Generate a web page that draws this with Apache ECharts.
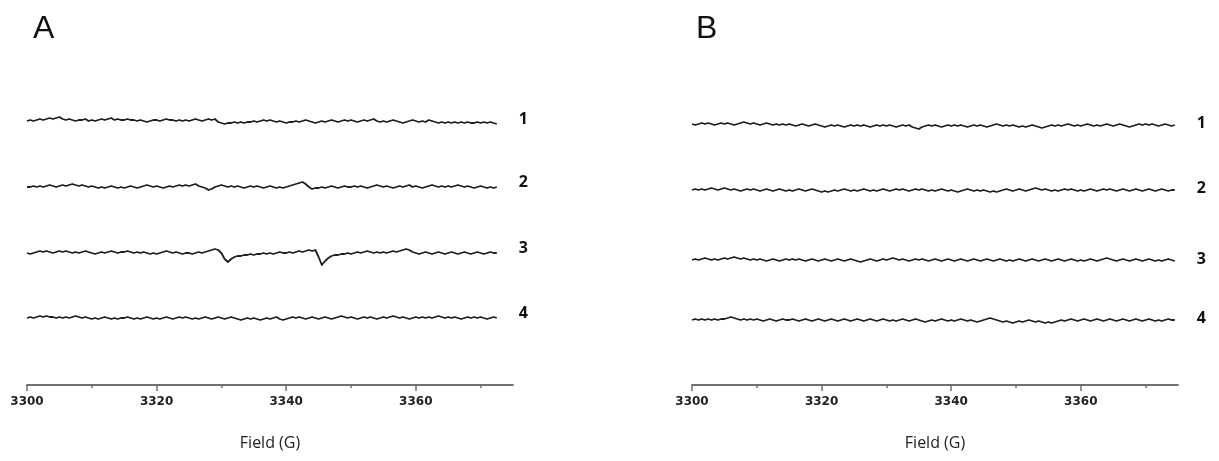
<!DOCTYPE html>
<html>
<head>
<meta charset="utf-8">
<script src="https://cdn.jsdelivr.net/npm/echarts@6/dist/echarts.min.js"></script>
<style>
html,body{margin:0;padding:0;background:#fff;}
#chart{width:1219px;height:461px;}
</style>
</head>
<body>
<div id="chart"></div>
<script>
// Field axis (G)
var fieldMin = 3300;
var fieldMax = 3375;
var fieldStep = 0.5;
var majorTicks = [3300, 3320, 3340, 3360];
var minorTicks = [3310, 3330, 3350, 3370];
var traceNames = ['1', '2', '3', '4'];

// Vertical offsets (stacking) of each trace, arbitrary units
var baseA = [264, 198, 132, 67];
var baseB = [260, 195, 125, 65];

// Panel A signals (3300 .. 3372.5 G, step 0.5 G)
var sigA1 = [0,1,0,1,2,1,2,3,2,3, 4,2,1,2,1,0,1,1,2,0, 1,0,1,2,1,2,3,1,2,1, 1,2,1,1,0,1,0,-1,0,1,
  1,0,1,2,1,1,0,1,0,1, 0,1,2,1,0,1,2,1,2,-1, -2,-3,-2,-2,-1,-2,-1,-2,-1,-1, 0,-1,0,1,0,1,0,-1,0,-1,
  -2,-1,-1,0,-1,0,1,0,-1,-2, -1,0,-1,0,1,0,-1,0,1,0, 1,0,-1,0,1,0,1,2,0,-1, 0,-1,0,1,0,-1,-2,-1,0,1,
  0,-1,0,-1,1,0,-1,-2,-1,-2, -1,-2,-1,-2,-1,-2,-1,-2,-2,-1, -2,-1,-2,-1,-2,-3];
var sigA2 = [0,0,1,0,1,0,1,2,1,0, 1,2,1,2,3,2,1,2,1,0, 1,0,-1,0,-1,0,1,0,-1,0, -1,0,1,0,-1,0,1,2,1,0,
  1,0,-1,0,1,0,1,2,1,2, 1,2,3,1,0,-1,-3,-2,0,1, 2,1,0,1,0,1,0,-1,0,1, 0,1,0,-1,0,1,0,-1,0,-1,
  0,1,2,3,4,5,3,0,-2,-1, -1,0,-1,0,1,0,-1,0,1,0, 0,1,0,1,0,-1,0,1,2,1, 0,1,0,-1,0,1,0,1,2,0,
  1,0,-1,0,1,2,1,0,1,0, 1,0,1,2,1,0,1,0,-1,0, 1,0,-1,0,-1,0];
var sigA3 = [0,-1,0,1,2,1,2,1,0,1, 2,1,2,1,0,1,0,1,2,1, 0,-1,0,1,0,1,2,1,0,1, 1,2,1,0,1,0,1,0,-1,0,
  -1,0,1,2,1,0,1,0,-1,0, 0,-1,0,1,0,1,2,3,4,3, 0,-6,-9,-6,-4,-3,-3,-2,-2,-1, -2,-1,-1,0,-1,0,-1,0,1,0,
  0,1,0,1,2,1,2,3,2,3, -4,-12,-8,-5,-3,-2,-2,-1,-1,0, -1,0,1,0,1,2,1,0,1,0, 1,0,1,2,1,2,3,4,3,1,
  0,-1,0,1,0,-1,0,1,0,-1, 0,1,0,-1,0,1,0,-1,0,1, 0,-1,0,1,0,0];
var sigA4 = [0,1,0,1,2,1,2,1,1,0, 1,0,1,0,1,2,1,0,1,0, -1,0,-1,0,1,0,-1,0,-1,0, 0,1,0,-1,0,-1,0,1,0,-1,
  0,-1,0,1,0,-1,0,1,0,1, 0,-1,0,-1,0,1,0,-1,0,1, 0,-1,0,1,0,-1,-2,-1,0,-1, 0,-1,-2,-1,0,-1,0,1,-1,-2,
  -1,0,1,0,1,0,-1,0,1,0, -1,0,1,0,-1,0,1,2,1,0, 1,0,-1,0,1,0,1,0,-1,0, 1,0,1,2,1,0,1,0,-1,0,
  1,0,1,0,1,0,1,2,1,0, 1,0,1,0,-1,0,1,0,1,0, 1,0,-1,0,1,0];

// Panel B signals (3300 .. 3374.5 G, step 0.5 G)
var sigB1 = [1,0,1,2,1,2,1,0,1,2, 1,2,1,0,1,2,3,2,1,2, 1,0,1,2,1,0,1,0,1,0, 1,0,-1,0,1,0,-1,0,1,0,
  -1,-2,-1,0,-1,0,-1,-2,-1,0, -1,0,-1,0,-1,-2,-1,0,-1,0, -1,0,-1,-2,-1,0,-1,0,-2,-3, -4,-2,-1,0,-1,0,-1,-2,-1,0,
  -1,0,-1,0,-1,-2,-1,0,-1,0, -1,-2,-1,0,1,0,-1,0,-1,0, -1,-2,-1,-2,-1,0,-1,-2,-3,-2, -1,0,-1,0,-1,0,1,0,-1,0,
  -1,0,1,0,-1,0,-1,0,1,0, -1,0,1,0,-1,-2,-1,0,1,0, 1,0,1,0,-1,0,1,0,-1,0];
var sigB2 = [0,1,0,1,0,1,2,1,0,1, 2,1,0,1,0,-1,0,1,0,1, 0,-1,0,1,0,-1,0,1,0,-1, 0,-1,0,1,0,-1,0,1,0,-1,
  -2,-1,-2,-1,0,-1,0,1,0,-1, 0,-1,0,1,0,-1,0,-1,0,1, 0,-1,0,1,0,1,0,-1,0,1, 0,1,0,-1,0,-1,0,1,0,-1,
  0,-1,-2,-1,0,1,0,-1,0,-1, 0,-1,-2,-1,-2,-1,0,1,0,-1, 0,1,0,-1,0,1,2,1,0,1, 0,-1,0,-1,0,1,0,1,0,-1,
  0,-1,0,1,0,-1,0,1,0,1, 0,-1,0,1,0,-1,0,1,0,-1, 0,1,0,-1,0,1,0,-1,0,0];
var sigB3 = [0,1,0,1,2,1,0,1,0,1, 2,1,2,3,2,1,2,1,0,1, 0,1,0,-1,0,1,0,-1,0,1, 0,1,0,1,0,-1,0,1,0,-1,
  0,1,0,-1,0,1,0,-1,0,1, 0,-1,-2,-1,0,1,0,-1,0,1, 0,1,2,1,0,1,0,-1,0,1, 0,1,0,-1,0,1,0,-1,0,1,
  0,-1,0,1,0,-1,0,1,0,-1, 0,1,0,-1,0,1,0,-1,0,-1, 0,1,0,-1,0,1,0,-1,0,1, 0,-1,0,1,0,-1,0,1,0,-1,
  0,-1,0,1,0,-1,0,1,2,1, 0,-1,0,1,0,-1,0,1,0,-1, 0,1,0,-1,0,-1,0,1,0,-1];
var sigB4 = [0,1,0,1,0,1,0,1,0,1, 1,2,3,2,1,0,1,0,1,0, 1,0,-1,0,1,0,-1,0,1,0, 0,1,0,-1,0,1,0,-1,0,1,
  0,-1,0,1,0,-1,0,1,0,-1, 0,1,0,-1,0,1,0,-1,0,1, 0,-1,0,-1,0,1,0,-1,0,1, 0,-1,-2,-1,0,-1,0,1,0,-1,
  0,-1,0,1,0,-1,0,-1,-2,-1, 0,1,2,1,0,-1,-2,-1,-2,-3, -2,-1,-2,-1,0,-1,-2,-1,-2,-3, -2,-3,-2,-1,0,-1,0,1,0,-1,
  0,1,0,-1,0,1,0,-1,0,1, 0,-1,0,1,0,-1,0,1,0,-1, 0,1,0,-1,0,-1,0,1,0,0];

var panelA = [sigA1, sigA2, sigA3, sigA4];
var panelB = [sigB1, sigB2, sigB3, sigB4];

function toPoints(sig, base) {
  return sig.map(function (v, i) { return [fieldMin + i * fieldStep, base + v]; });
}

var traceColor = '#1e1e1e';
var axisColor = '#707070';

function makeSeries(sigs, bases, axisIdx, labelOffsetY) {
  return sigs.map(function (sig, k) {
    return {
      type: 'line',
      name: traceNames[k],
      xAxisIndex: axisIdx,
      yAxisIndex: axisIdx / 2,
      data: toPoints(sig, bases[k]),
      showSymbol: false,
      symbol: 'none',
      silent: true,
      lineStyle: { color: traceColor, width: 1.8, join: 'round' },
      endLabel: {
        show: true,
        formatter: traceNames[k],
        distance: 22,
        offset: [0, labelOffsetY],
        color: '#111',
        fontSize: 16,
        fontWeight: 'bold',
        fontFamily: 'Open Sans'
      }
    };
  });
}

function majorAxis(grid) {
  return {
    type: 'value', gridIndex: grid, min: fieldMin, max: fieldMax, interval: 5,
    position: 'bottom',
    name: 'Field (G)', nameLocation: 'middle', nameGap: 50,
    nameTextStyle: { fontFamily: 'Open Sans', fontSize: 16, color: '#222' },
    axisLine: { show: true, onZero: false, lineStyle: { color: axisColor, width: 1.8 } },
    axisTick: { show: true, length: 6, customValues: majorTicks, lineStyle: { color: axisColor, width: 1.5 } },
    axisLabel: {
      show: true, customValues: majorTicks, margin: 11,
      formatter: function (v) { return String(v); },
      fontFamily: 'DejaVu Sans', fontWeight: 'bold', fontSize: 12, color: '#222'
    },
    splitLine: { show: false }
  };
}
function minorAxis(grid) {
  return {
    type: 'value', gridIndex: grid, min: fieldMin, max: fieldMax, interval: 5,
    position: 'bottom',
    axisLine: { show: false, onZero: false },
    axisTick: { show: true, length: 3, customValues: minorTicks, lineStyle: { color: axisColor, width: 1.5 } },
    axisLabel: { show: false },
    splitLine: { show: false }
  };
}

var chart = echarts.init(document.getElementById('chart'), null, { renderer: 'canvas' });
chart.setOption({
  animation: false,
  backgroundColor: '#ffffff',
  grid: [
    { left: 27, right: 706, top: 60, bottom: 76 },
    { left: 692, right: 41, top: 60, bottom: 76 }
  ],
  xAxis: [majorAxis(0), minorAxis(0), majorAxis(1), minorAxis(1)],
  yAxis: [
    { type: 'value', gridIndex: 0, min: 0, max: 325, show: false },
    { type: 'value', gridIndex: 1, min: 0, max: 325, show: false }
  ],
  series: makeSeries(panelA, baseA, 0, -5).concat(makeSeries(panelB, baseB, 2, -2)),
  graphic: [
    { type: 'text', left: 33, top: 13, style: { text: 'A', font: '32px "Liberation Sans"', fill: '#111' } },
    { type: 'text', left: 696, top: 13, style: { text: 'B', font: '32px "Liberation Sans"', fill: '#111' } }
  ]
});
</script>
</body>
</html>
